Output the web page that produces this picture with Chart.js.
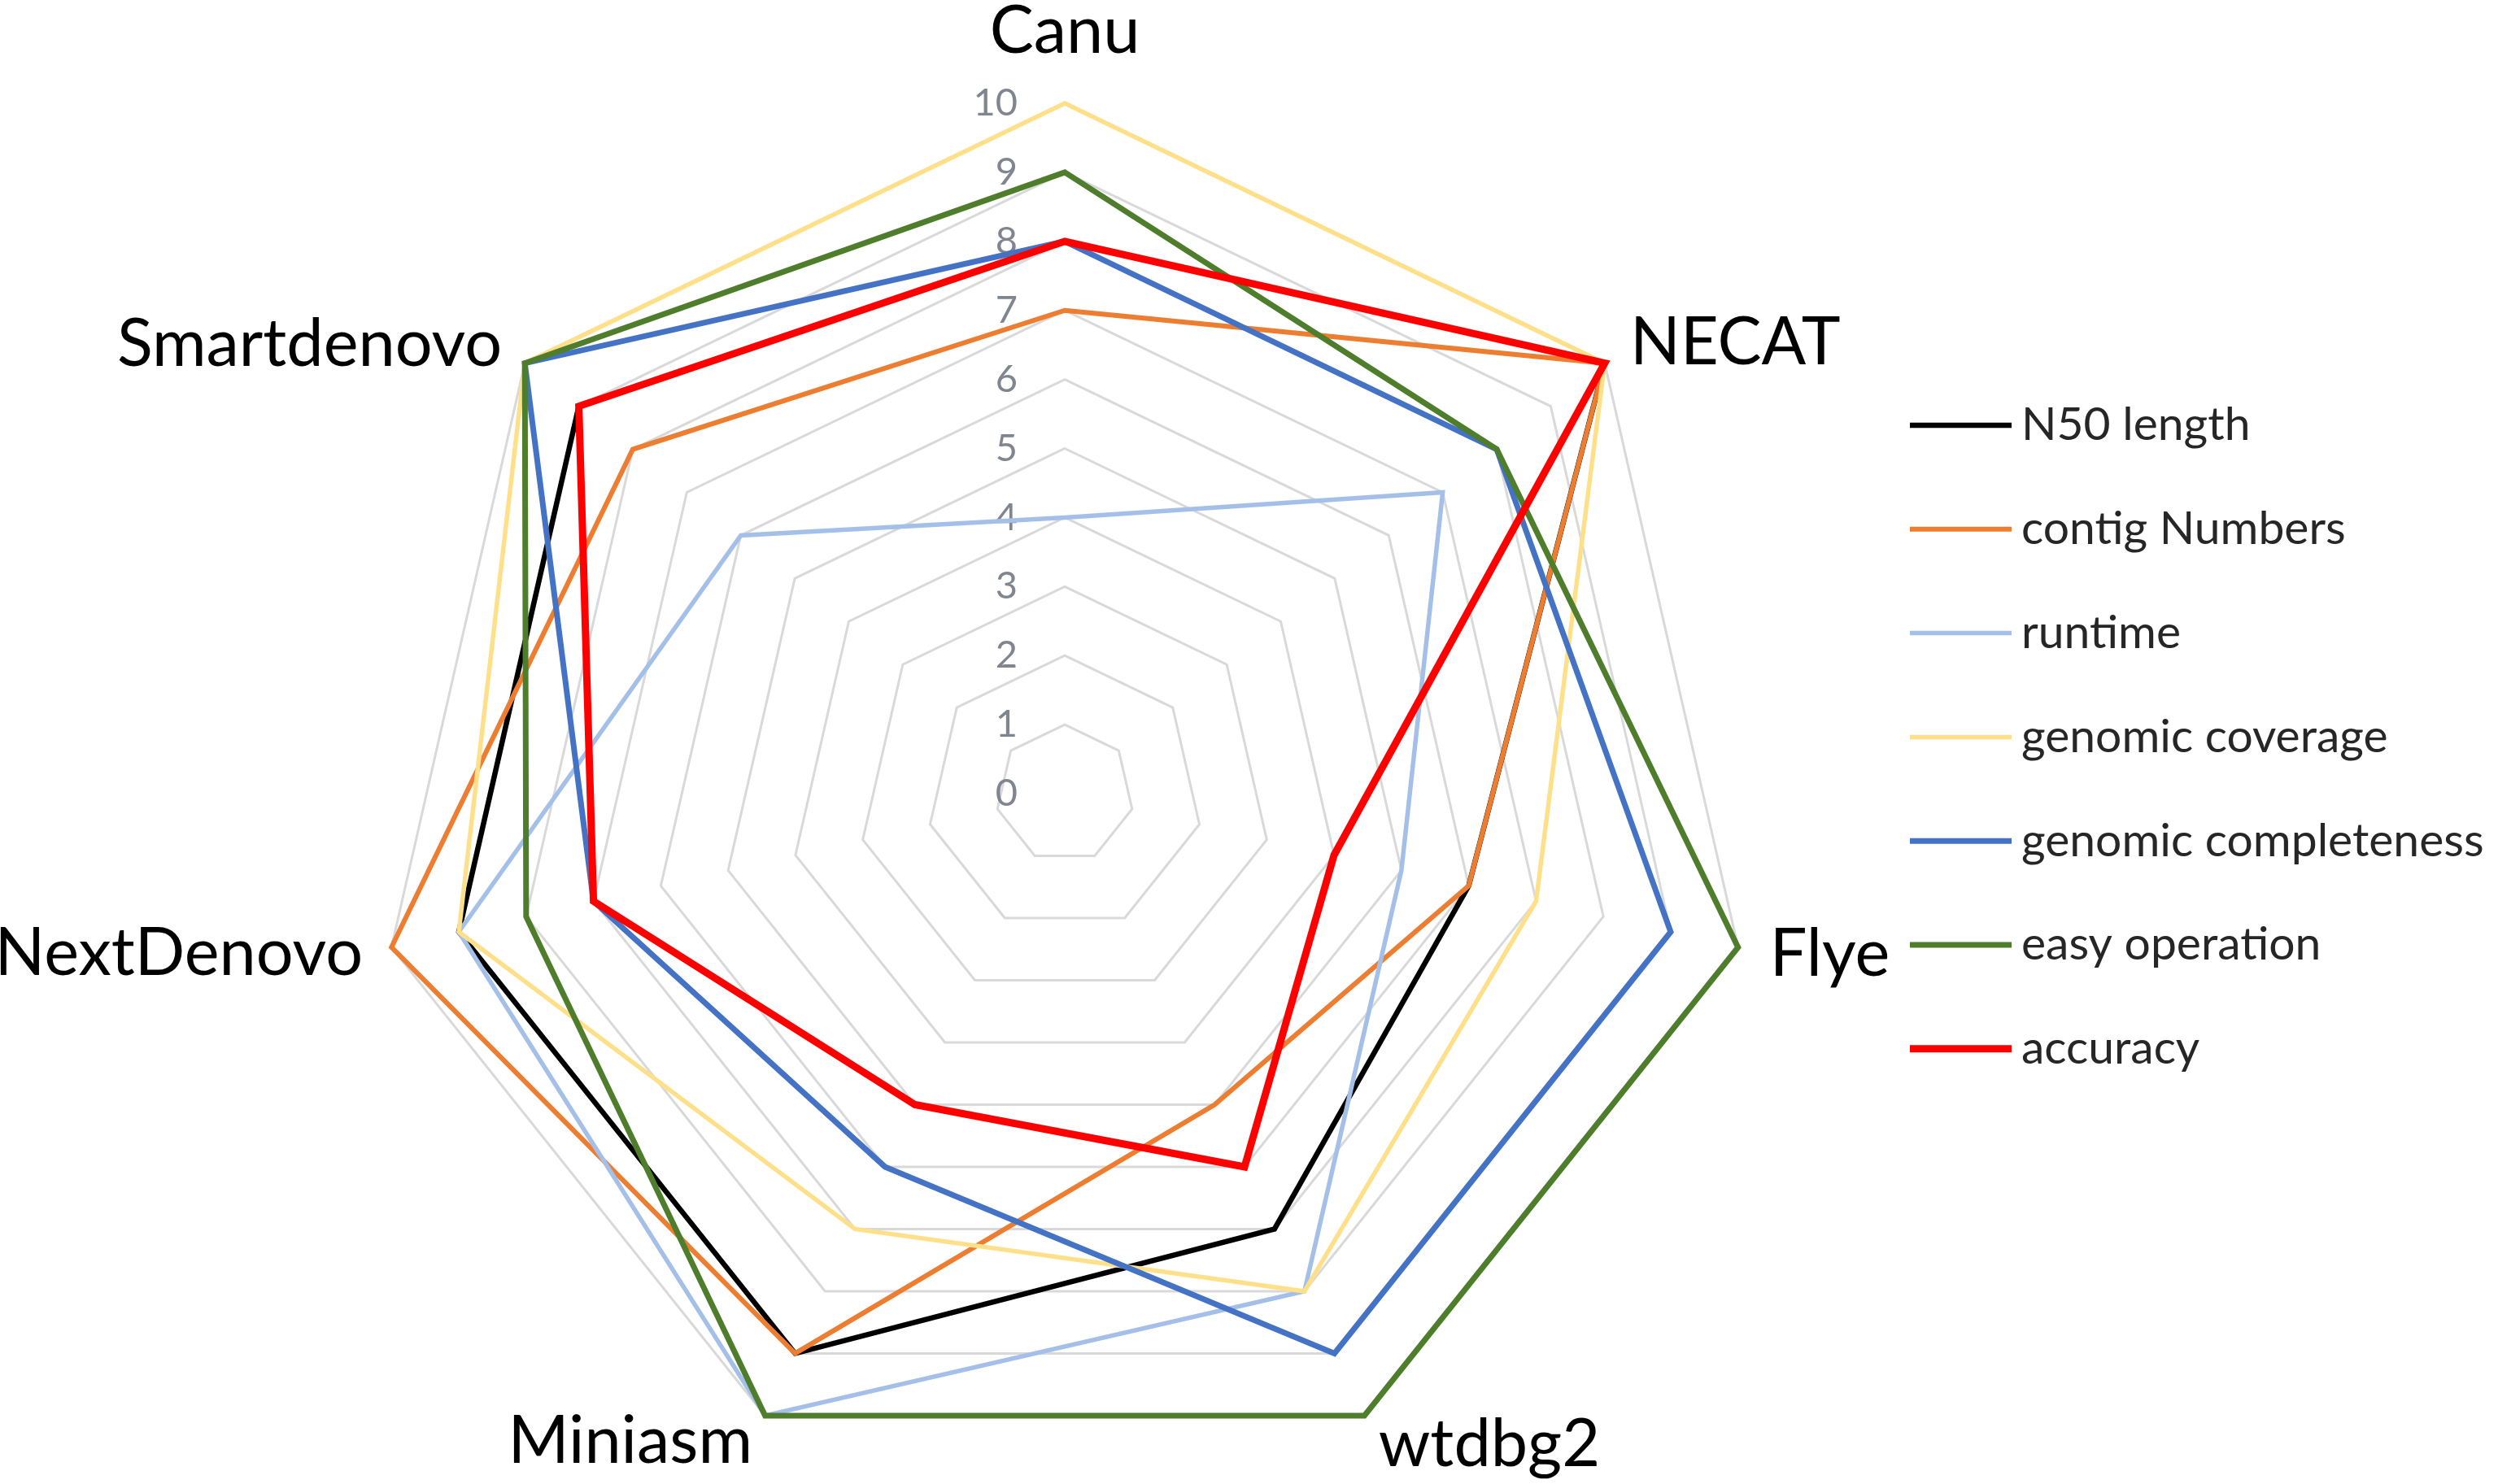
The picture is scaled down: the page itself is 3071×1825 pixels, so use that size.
<!DOCTYPE html>
<html>
<head>
<meta charset="utf-8">
<title>Assembler comparison radar</title>
<script src="https://cdn.jsdelivr.net/npm/chart.js@4.4.1/dist/chart.umd.min.js"></script>
<style>
  html, body { margin: 0; padding: 0; background: #fff; }
  #wrap { position: relative; width: 3071px; height: 1825px; }
</style>
</head>
<body>
<div id="wrap"><canvas id="radar"></canvas></div>
<script>
// axes (clockwise from the top)
var assemblers = ['Canu', 'NECAT', 'Flye', 'wtdbg2', 'Miniasm', 'NextDenovo', 'Smartdenovo'];
// score rings 0..10
var scoreTicks = [0, 1, 2, 3, 4, 5, 6, 7, 8, 9, 10];

// scores, same order as assemblers
var n50Length      = [8, 10, 6, 7, 9, 9, 9];
var contigNumbers  = [7, 10, 6, 5, 9, 10, 8];
var runtime        = [4, 7, 5, 8, 10, 9, 6];
var genomeCoverage = [10, 10, 7, 8, 7, 9, 10];
var completeness   = [8, 8, 9, 9, 6, 7, 10];
var easyOperation  = [9, 8, 10, 10, 10, 8, 10];
var accuracy       = [8, 10, 4, 6, 5, 7, 9];

var legendBox = { x: 2348, y: 523, lineLen: 125, gap: 12, step: 127.8 };

// tick numbers sit a little left of the Canu spoke
var tickText = {
	id: 'tickText',
	beforeDatasetsDraw: function(chart) {
		var s = chart.scales.r, ctx = chart.ctx;
		ctx.save();
		ctx.font = '47px Lato';
		ctx.fillStyle = '#80868f';
		ctx.textAlign = 'right';
		ctx.textBaseline = 'middle';
		for (var i = 0; i < scoreTicks.length; i++) {
			var d = s.getDistanceFromCenterForValue(scoreTicks[i]);
			ctx.fillText(String(scoreTicks[i]), s.xCenter - 58, s.yCenter - d);
		}
		ctx.restore();
	}
};

// assembler names round the outside
var axisText = {
	id: 'axisText',
	afterDatasetsDraw: function(chart) {
		var s = chart.scales.r, ctx = chart.ctx;
		ctx.save();
		ctx.font = '81px Lato';
		ctx.fillStyle = '#000';
		for (var i = 0; i < chart.data.labels.length; i++) {
			var p = s.getPointPosition(i, s.drawingArea + 40);
			var dx = p.x - s.xCenter;
			if (Math.abs(dx) < 2) {
				p = s.getPointPosition(i, s.drawingArea + 62);
				ctx.textAlign = 'center';
				ctx.textBaseline = 'alphabetic';
			} else {
				if (dx < 0) p = s.getPointPosition(i, s.drawingArea + 36);
				ctx.textAlign = dx > 0 ? 'left' : 'right';
				ctx.textBaseline = 'middle';
			}
			ctx.fillText(chart.data.labels[i], p.x, p.y);
		}
		ctx.restore();
	}
};

var sideLegend = {
	id: 'sideLegend',
	afterDraw: function(chart) {
		var ctx = chart.ctx;
		ctx.save();
		ctx.font = '57px Lato';
		ctx.textAlign = 'left';
		ctx.textBaseline = 'middle';
		chart.data.datasets.forEach(function(ds, i) {
			var y = legendBox.y + i * legendBox.step;
			ctx.strokeStyle = ds.borderColor;
			ctx.lineWidth = ds.borderWidth;
			ctx.beginPath();
			ctx.moveTo(legendBox.x, y);
			ctx.lineTo(legendBox.x + legendBox.lineLen, y);
			ctx.stroke();
			ctx.fillStyle = '#262626';
			ctx.fillText(ds.label, legendBox.x + legendBox.lineLen + legendBox.gap, y);
		});
		ctx.restore();
	}
};

var line = function(label, data, color, width, order) {
	return {
		label: label,
		data: data,
		borderColor: color,
		borderWidth: width,
		backgroundColor: 'transparent',
		fill: false,
		pointRadius: 0,
		pointHoverRadius: 0,
		tension: 0,
		order: order
	};
};

var ctx = document.getElementById('radar').getContext('2d');
var radar = new Chart(ctx, {
	type: 'radar',
	data: {
		labels: assemblers,
		datasets: [
			line('N50 length', n50Length, '#000000', 6.5, 6),
			line('contig Numbers', contigNumbers, '#ED7D31', 6, 5),
			line('runtime', runtime, '#A5C0E8', 5.5, 4),
			line('genomic coverage', genomeCoverage, '#FFE08A', 5.5, 3),
			line('genomic completeness', completeness, '#4472C4', 7, 2),
			line('easy operation', easyOperation, '#4E7D2C', 7, 1),
			line('accuracy', accuracy, '#FF0000', 9, 0)
		]
	},
	options: {
		responsive: true,
		maintainAspectRatio: false,
		devicePixelRatio: 1,
		animation: false,
		layout: { padding: { top: 127, bottom: -8, left: 0, right: 453 } },
		plugins: {
			legend: { display: false },
			tooltip: { enabled: false }
		},
		scales: {
			r: {
				min: scoreTicks[0],
				max: scoreTicks[scoreTicks.length - 1],
				startAngle: 0,
				ticks: { stepSize: 1, display: false },
				grid: { color: '#d9d9d9', lineWidth: 3 },
				angleLines: { display: false },
				pointLabels: { display: false }
			}
		}
	},
	plugins: [tickText, axisText, sideLegend]
});
</script>
</body>
</html>
